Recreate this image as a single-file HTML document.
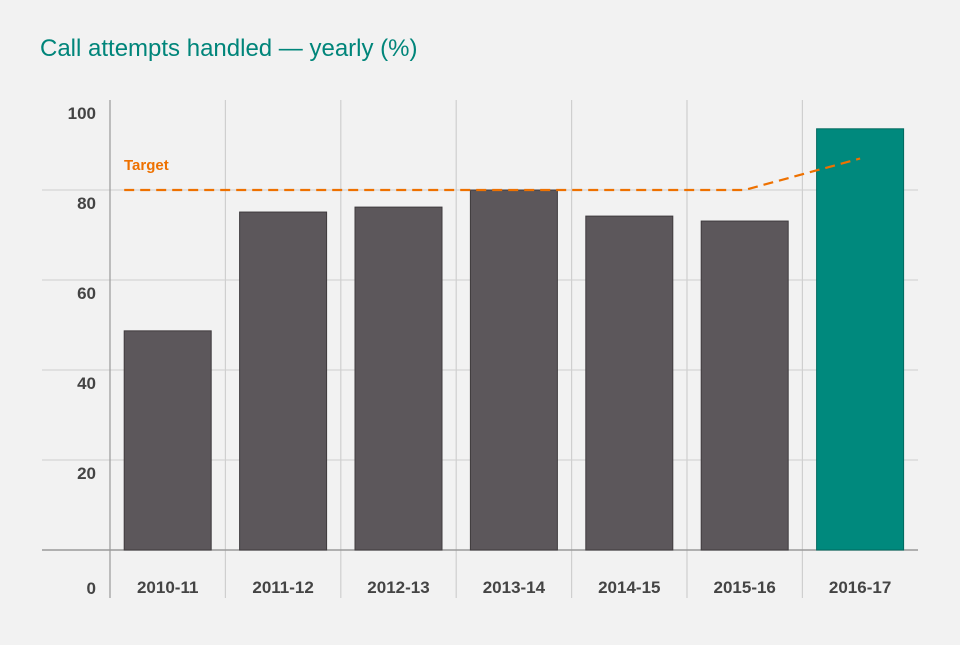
<!DOCTYPE html>
<html><head><meta charset="utf-8"><style>
html,body{margin:0;padding:0;background:#f2f2f2;}
svg text{font-family:"Liberation Sans",sans-serif;}
</style></head><body>
<svg width="960" height="640" xmlns="http://www.w3.org/2000/svg">
<rect width="960" height="640" fill="#f2f2f2"/>
<text x="40" y="56" font-size="24" fill="#00857a">Call attempts handled — yearly (%)</text>
<g id="grid"></g><g id="bars"></g><g id="labels"></g>
<path id="target" fill="none" stroke="#ee7100" stroke-width="2.2" stroke-dasharray="10,6"/>
<text x="124" y="170" font-size="15" font-weight="bold" fill="#ee7100">Target</text>
</svg>
<script>
const categories=["2010-11","2011-12","2012-13","2013-14","2014-15","2015-16","2016-17"];
const values=[48.7,75.1,76.2,80,74.2,73.1,93.6];
const targets=[80,80,80,80,80,80,87];
const yTicks=[0,20,40,60,80,100];
const NS="http://www.w3.org/2000/svg";
const x0=110,colW=115.4,barW=87;
const y=v=>550-v*4.5;
const cx=i=>x0+colW*(i+0.5);
function mk(t,a,p){const e=document.createElementNS(NS,t);for(const k in a)e.setAttribute(k,a[k]);p.appendChild(e);return e;}
const grid=document.getElementById('grid'),bars=document.getElementById('bars'),labels=document.getElementById('labels');
yTicks.forEach(v=>{
  if(v>0&&v<100){const l=mk('line',{x1:42,x2:918,y1:y(v),y2:y(v),stroke:'#cfcfcf','stroke-width':1},grid);
  
  }
  const t=mk('text',{x:96,y:v===0?594:y(v)+19,'font-size':17,'font-weight':'bold',fill:'#444','text-anchor':'end'},labels);
  t.textContent=v;
  
  
});
for(let i=0;i<categories.length;i++){
  const xl=x0+colW*i;
  const l=mk('line',{x1:xl,x2:xl,y1:100,y2:598,stroke:i===0?'#9a9a9a':'#cfcfcf','stroke-width':1.2},grid);
  
  
}
const base=mk('line',{x1:42,x2:918,y1:550,y2:550,stroke:'#9a9a9a','stroke-width':1.5},grid);


values.forEach((v,i)=>{
  const last=i===values.length-1;
  const r=mk('rect',{x:cx(i)-barW/2,y:y(v),width:barW,height:550-y(v),fill:last?'#00897d':'#5c575b',stroke:last?'#00695f':'#3f3b3e','stroke-width':1},bars);
  
  
  const t=mk('text',{x:cx(i),y:593,'font-size':17,'font-weight':'bold',fill:'#444','text-anchor':'middle'},labels);
  t.textContent=categories[i];
  
  
});
let d='M'+(cx(0)-barW/2)+','+y(targets[0]);
targets.forEach((v,i)=>{d+=' L'+cx(i)+','+y(v);});
document.getElementById('target').setAttribute('d',d);
</script>
</body></html>
